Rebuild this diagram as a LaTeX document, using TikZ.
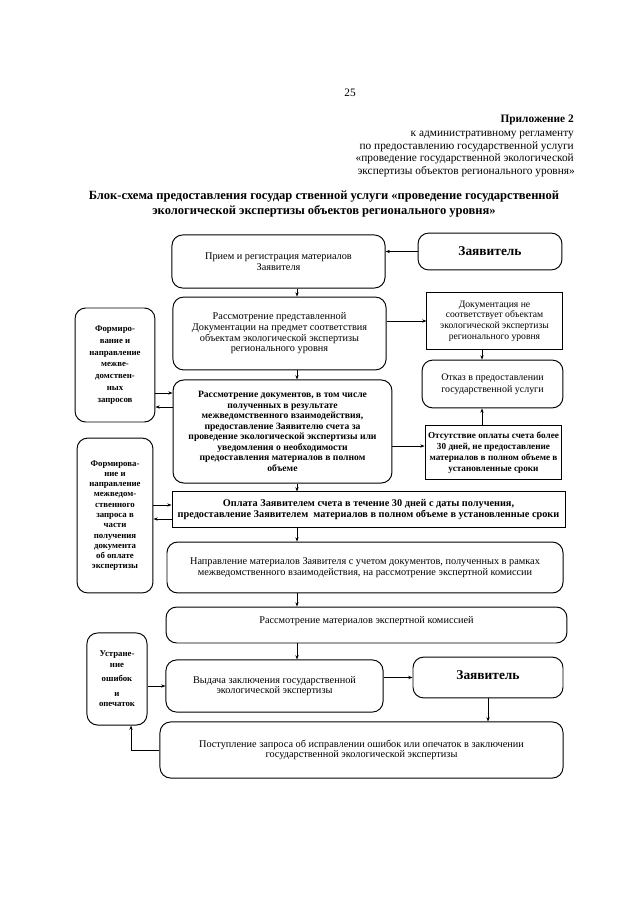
\documentclass[tikz,border=0pt]{standalone}
\usepackage{fontspec}
\setmainfont{Liberation Serif}
\usetikzlibrary{arrows.meta,positioning}

\begin{document}
\begin{tikzpicture}[
  x=0.328mm, y=-0.328mm,
  font=\fontsize{9.6}{10}\selectfont,
  rstep/.style={draw, line width=0.9pt, rounded corners=3.5mm, align=center,
                inner sep=1pt, text=black},
  sstep/.style={draw, line width=0.9pt, align=center, inner sep=1pt, text=black},
  bstep/.style={font=\fontsize{9}{9.8}\selectfont\bfseries},
  side/.style={draw, line width=0.9pt, rounded corners=3.5mm, align=center,
               inner sep=1pt},
  sidetxt/.style={font=\fontsize{8.2}{#1}\selectfont\bfseries},
  who/.style={draw, line width=0.9pt, rounded corners=3.5mm, align=center,
              font=\fontsize{12.5}{14}\selectfont\bfseries},
  arr/.style={-{Stealth[length=4pt,width=3pt]}, semithick},
  hdr/.style={anchor=base east, inner sep=0pt, font=\fontsize{10.6}{12}\selectfont},
]

  \useasboundingbox (0,0) rectangle (640,905);

  % Header

  \node[anchor=base, inner sep=0pt, font=\fontsize{10.6}{12}\selectfont] (page) at (350,97) {25};
  \node[hdr, font=\fontsize{10.6}{12}\selectfont\bfseries] (app) at (574,123) {Приложение 2};
  \node[hdr] (h1) at (574,137) {к административному регламенту};
  \node[hdr] (h2) at (574,150) {по предоставлению государственной услуги};
  \node[hdr] (h3) at (574,162) {«проведение государственной экологической};
  \node[hdr] (h4) at (575,175) {экспертизы объектов регионального уровня»};

  \node[align=center, inner sep=0pt, font=\fontsize{11.7}{14.5}\selectfont\bfseries]
    (title) at (324,204)
    {Блок-схема предоставления государ ственной услуги «проведение государственной\\
     экологической экспертизы объектов регионального уровня»};

  \coordinate (spine) at (297,0);
  \coordinate (rcol)  at (482,0);

  % Main column

  \node[rstep, minimum width=69.9mm, minimum height=17.4mm] (recv) at (278.5,261.5)
    {Прием и регистрация материалов\\Заявителя};
  \node[who, minimum width=47.2mm, minimum height=12.1mm] (appl1) at (490,251.5)
    {Заявитель};

  \node[rstep, minimum width=69.9mm, minimum height=23.9mm] (check) at (279.5,333.5)
    {Рассмотрение представленной\\
     Документации на предмет соответствия\\
     объектам экологической экспертизы\\
     регионального уровня};

  \node[rstep, bstep, minimum width=71.8mm, minimum height=33.8mm] (review) at (282.5,431.5)
    {Рассмотрение документов, в том числе\\
     полученных в результате\\
     межведомственного взаимодействия,\\
     предоставление Заявителю счета за\\
     проведение экологической экспертизы или\\
     уведомления о необходимости\\
     предоставления материалов в полном\\
     объеме};

  \node[sstep, font=\fontsize{9.6}{10.8}\selectfont\bfseries,
        minimum width=128.9mm, minimum height=11.5mm] (pay) at (368.5,509.5)
    {Оплата Заявителем счета в течение 30 дней с даты получения,\\
     предоставление Заявителем\ \ материалов в полном объеме в установленные сроки};

  \node[rstep, minimum width=129.9mm, minimum height=16.7mm] (send) at (365,567.5)
    {Направление материалов Заявителя с учетом документов, полученных в рамках\\
     межведомственного взаимодействия, на рассмотрение экспертной комиссии};

  \node[rstep, minimum width=131.5mm, minimum height=11.8mm, text depth=3mm] (exam) at (366.5,625)
    {Рассмотрение материалов экспертной комиссией};

  \node[rstep, minimum width=71.2mm, minimum height=17.1mm] (issue) at (274.5,686)
    {Выдача заключения государственной\\экологической экспертизы};
  \node[who, minimum width=49.2mm, minimum height=13.4mm, text depth=1.5mm] (appl2) at (488,677.5)
    {Заявитель};

  \node[rstep, minimum width=132.2mm, minimum height=18.4mm] (fix) at (361.5,750)
    {Поступление запроса об исправлении ошибок или опечаток в заключении\\
     государственной экологической экспертизы};

  % Right column

  \node[sstep, font=\fontsize{9}{9.9}\selectfont, minimum width=44.3mm, minimum height=19mm]
    (nomatch) at (494.5,321)
    {Документация не\\соответствует объектам\\экологической экспертизы\\регионального уровня};
  \node[rstep, font=\fontsize{9.3}{11.5}\selectfont, minimum width=46.2mm, minimum height=15.7mm]
    (refuse) at (492.5,384)
    {Отказ в предоставлении\\государственной услуги};
  \node[sstep, font=\fontsize{8.6}{10.2}\selectfont\bfseries, minimum width=44.9mm, minimum height=18mm]
    (nopay) at (493.5,452.5)
    {Отсутствие оплаты счета более\\30 дней, не предоставление\\материалов в полном объеме в\\установленные сроки};

  % Left column

  \node[side, sidetxt=11, minimum width=26.2mm, minimum height=37.4mm] (req1) at (115,365)
    {Формиро-\\вание и\\направление\\межве-\\домствен-\\ных\\запросов};
  \node[side, sidetxt=9.6, minimum width=24.9mm, minimum height=50.8mm] (req2) at (115,515.5)
    {Формирова-\\ние и\\направление\\межведом-\\ственного\\запроса в\\части\\получения\\документа\\об оплате\\экспертизы};
  \node[side, sidetxt=9.6, minimum width=19.7mm, minimum height=30.2mm] (corr) at (117,679)
    {Устране-\\ние\\[4pt]ошибок\\[4pt]и\\опечаток};

  % Arrows

  \draw[arr] (appl1.west) -- (appl1.west -| recv.east);
  \draw[arr] (recv.south -| spine) -- (check.north -| spine);
  \draw[arr] (check.east |- nomatch.west) -- (nomatch.west);
  \draw[arr] (nomatch.south -| rcol) -- (refuse.north -| rcol);
  \draw[arr] (check.south -| spine) -- (review.north -| spine);
  \draw[arr] (review.east |- 0,446) -- (nopay.west |- 0,446);
  \draw[arr] (nopay.north -| rcol) -- (refuse.south -| rcol);
  \draw[arr] (review.south -| spine) -- (pay.north -| spine);
  \draw[arr] (pay.south -| spine) -- (send.north -| spine);
  \draw[arr] (send.south -| spine) -- (exam.north -| spine);
  \draw[arr] (exam.south -| spine) -- (issue.north -| spine);
  \draw[arr] (issue.east |- appl2.west) -- (appl2.west);
  \draw[arr] (appl2.south) -- (appl2.south |- fix.north);

  % interagency requests
  \draw[arr] (req1.east |- 0,393) -- (review.west |- 0,393);
  \draw[arr] (review.west |- 0,407) -- (req1.east |- 0,407);
  \draw[arr] (req2.east |- 0,505) -- (pay.west |- 0,505);
  \draw[arr] (pay.west |- 0,519) -- (req2.east |- 0,519);

  % corrections loop
  \draw[arr] (corr.east |- issue.west) -- (issue.west);
  \draw[arr] (fix.west) -| ([xshift=4.6mm]corr.south);

\end{tikzpicture}
\end{document}
